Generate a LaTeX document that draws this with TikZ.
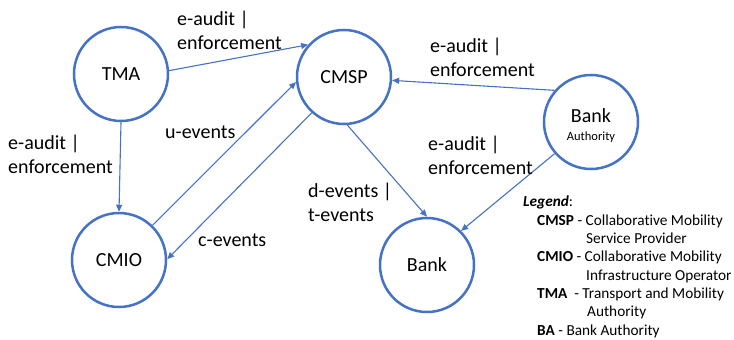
\documentclass[tikz,border=0pt]{standalone}
\usepackage{fontspec}
\setmainfont{Carlito}[Ligatures=NoCommon]
\usetikzlibrary{arrows.meta}
\definecolor{obl}{RGB}{68,114,196}
\begin{document}
\begin{tikzpicture}[x=1pt,y=-1pt,
 ent/.style={circle,draw=obl,line width=2.5pt,minimum size=94pt,inner sep=0pt,font=\fontsize{20}{24}\selectfont},
 flow/.style={draw=obl,line width=1.1pt,-{Triangle[length=7pt,width=6pt]}},
 lbl/.style={anchor=west,inner sep=0pt,align=left,font=\fontsize{20}{24}\selectfont}]
\useasboundingbox (0,0) rectangle (734,340);
\node[ent] (tma) at (121,74) {TMA};
\node[ent] (cmsp) at (344,77) {CMSP};
\node[ent] (cmio) at (119,260) {CMIO};
\node[ent] (bank) at (427,265) {Bank};
\node[ent] (ba) at (591,122) {\raisebox{-5pt}[\height][\depth]{\begin{tabular}{@{}c@{}}Bank\\[-6pt]{\fontsize{12.5}{15}\selectfont Authority}\end{tabular}}};
\draw[flow] (tma.4) -- (cmsp.138);
\draw[flow] (tma.270) -- (cmio.90);
\draw[flow] (cmio.46) -- (cmsp.186);
\draw[flow] (cmsp.228) -- (cmio.1);
\draw[flow] (cmsp.-86) -- (bank.90);
\draw[flow] (ba.139) -- (cmsp.-4);
\draw[flow] (ba.221) -- (bank.45);
\node[lbl] (l1) at (177,30) {e-audit |\\enforcement};
\node[lbl] (l2) at (430,57) {e-audit |\\enforcement};
\node[lbl] (l3) at (8,154) {e-audit |\\enforcement};
\node[lbl] (l4) at (165,132) {u-events};
\node[lbl] (l5) at (428,155) {e-audit |\\enforcement};
\node[lbl] (l6) at (308,202) {d-events |\\t-events};
\node[lbl] (l7) at (198,240) {c-events};
\node[anchor=north west,inner sep=0pt,align=left,font=\fontsize{15.3}{18.3}\selectfont] (legend) at (523,196) {\textbf{\textit{Legend}}:\\
\hspace*{14pt}\textbf{CMSP} - Collaborative Mobility\\
\hspace*{63pt}Service Provider\\
\hspace*{14pt}\textbf{CMIO} - Collaborative Mobility\\
\hspace*{63pt}Infrastructure Operator\\
\hspace*{14pt}\textbf{TMA}\ \ - Transport and Mobility\\
\hspace*{64pt}Authority\\
\hspace*{14pt}\textbf{BA} - Bank Authority};
\end{tikzpicture}
\end{document}
